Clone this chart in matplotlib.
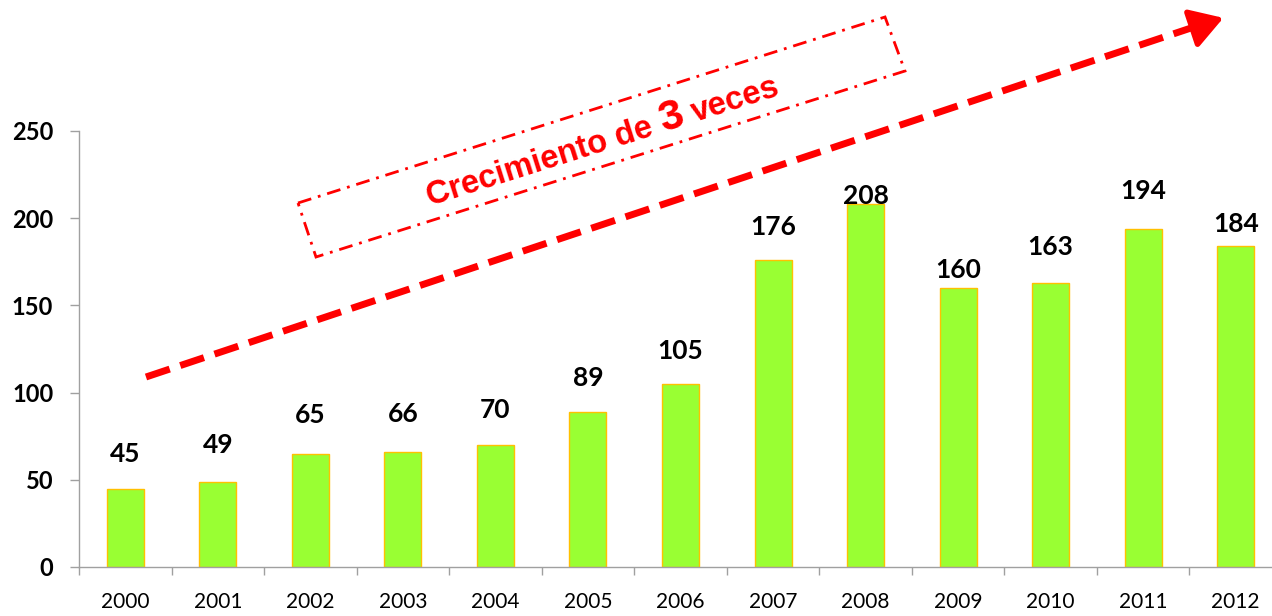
import numpy as np
import matplotlib
matplotlib.use("Agg")
import matplotlib.pyplot as plt
from matplotlib import font_manager
from matplotlib.font_manager import FontProperties
from matplotlib.patches import Polygon, FancyArrowPatch
from matplotlib.lines import Line2D

years = ["2000", "2001", "2002", "2003", "2004", "2005", "2006",
         "2007", "2008", "2009", "2010", "2011", "2012"]
values = [45, 49, 65, 66, 70, 89, 105, 176, 208, 160, 163, 194, 184]
yticks = [0, 50, 100, 150, 200, 250]

# how far each value label sits above its bar (points) - a few were nudged down in the original
label_dy = [25, 26, 28, 27, 25, 24, 24, 24, 6, 13, 26, 27, 16]

callout = ["Crecimiento de", "3", "veces"]


def pick(*names):
    for n in names:
        try:
            font_manager.findfont(FontProperties(family=n), fallback_to_default=False)
            return n
        except ValueError:
            pass
    return "DejaVu Sans"


num_font = pick("Lato", "Open Sans", "DejaVu Sans")
txt_font = pick("Liberation Sans", "Arial", "DejaVu Sans")

W, H = 1272, 616
fig = plt.figure(figsize=(W / 100, H / 100), dpi=100)
ax = fig.add_axes([79 / W, 1 - 567 / H, 1203 / W, (567 - 131) / H])

x = np.arange(len(years))
ax.bar(x, values, width=0.4, color="#99FF33", edgecolor="#FFC000", linewidth=1.0, zorder=2)

for xi, v, dy in zip(x, values, label_dy):
    ax.annotate(str(v), (xi, v), xytext=(0, dy), textcoords="offset points",
                ha="center", va="center", fontsize=19, fontweight="bold",
                family=num_font, color="black", zorder=3)

ax.set_xlim(-0.5, len(years) - 0.5)
ax.set_ylim(0, 250)
ax.set_yticks(yticks)
ax.set_yticklabels([str(t) for t in yticks], fontsize=17, fontweight="bold", family=num_font)
ax.set_xticks(x)
ax.set_xticklabels(years, fontsize=15, family=num_font)
ax.set_xticks(np.arange(len(years) + 1) - 0.5, minor=True)
ax.tick_params(axis="x", which="major", length=0, pad=18)
ax.tick_params(axis="x", which="minor", length=6, width=1, color="#A0A0A0")
ax.tick_params(axis="y", length=6.5, width=1, color="#A0A0A0", pad=12)

for s in ["top", "right"]:
    ax.spines[s].set_visible(False)
for s in ["left", "bottom"]:
    ax.spines[s].set_color("#A0A0A0")
    ax.spines[s].set_linewidth(1.0)


def fp(px, py):
    return (px / W, 1 - py / H)


# big dashed trend arrow
(x0, y0), (x1, y1) = fp(146, 377), fp(1203, 24)
fig.add_artist(Line2D([x0, x1], [y0, y1], transform=fig.transFigure, color="red",
                      lw=5, linestyle=(0, (3.6, 1.6)), solid_capstyle="butt",
                      dash_capstyle="butt"))
head = FancyArrowPatch(fp(1190, 29), fp(1226, 17), transform=fig.transFigure,
                       arrowstyle="-|>,head_length=0.9,head_width=0.55",
                       color="red", lw=4, joinstyle="round", capstyle="round",
                       mutation_scale=22)
fig.add_artist(head)

# dash-dot box around the callout
corners = [fp(298, 203), fp(885, 17), fp(905, 71), fp(316, 257)]
fig.add_artist(Polygon(corners, closed=True, fill=False, transform=fig.transFigure,
                       edgecolor="red", lw=2.0, linestyle=(0, (5, 2.5, 1, 2.5))))

# callout text laid out piece by piece along the tilted baseline
r = fig.canvas.get_renderer()


def tw(s, size):
    t = fig.text(0, 0, s, fontsize=size, fontweight="bold", family=txt_font)
    w = t.get_window_extent(r).width
    t.remove()
    return w


ang = 17.5
d = np.array([np.cos(np.radians(ang)), np.sin(np.radians(ang))])
sp = tw("a a", 23.5) - tw("aa", 23.5)
sizes = [23.5, 31, 23.5]
pos = np.array([430.0, H - 206.0])
for i, (s, fs) in enumerate(zip(callout, sizes)):
    fig.text(pos[0] / W, pos[1] / H, s, fontsize=fs, fontweight="bold", family=txt_font,
             color="red", rotation=ang, rotation_mode="anchor", ha="left", va="baseline")
    pos = pos + d * (tw(s, fs) + sp)

fig.savefig("out.png", dpi=100)
